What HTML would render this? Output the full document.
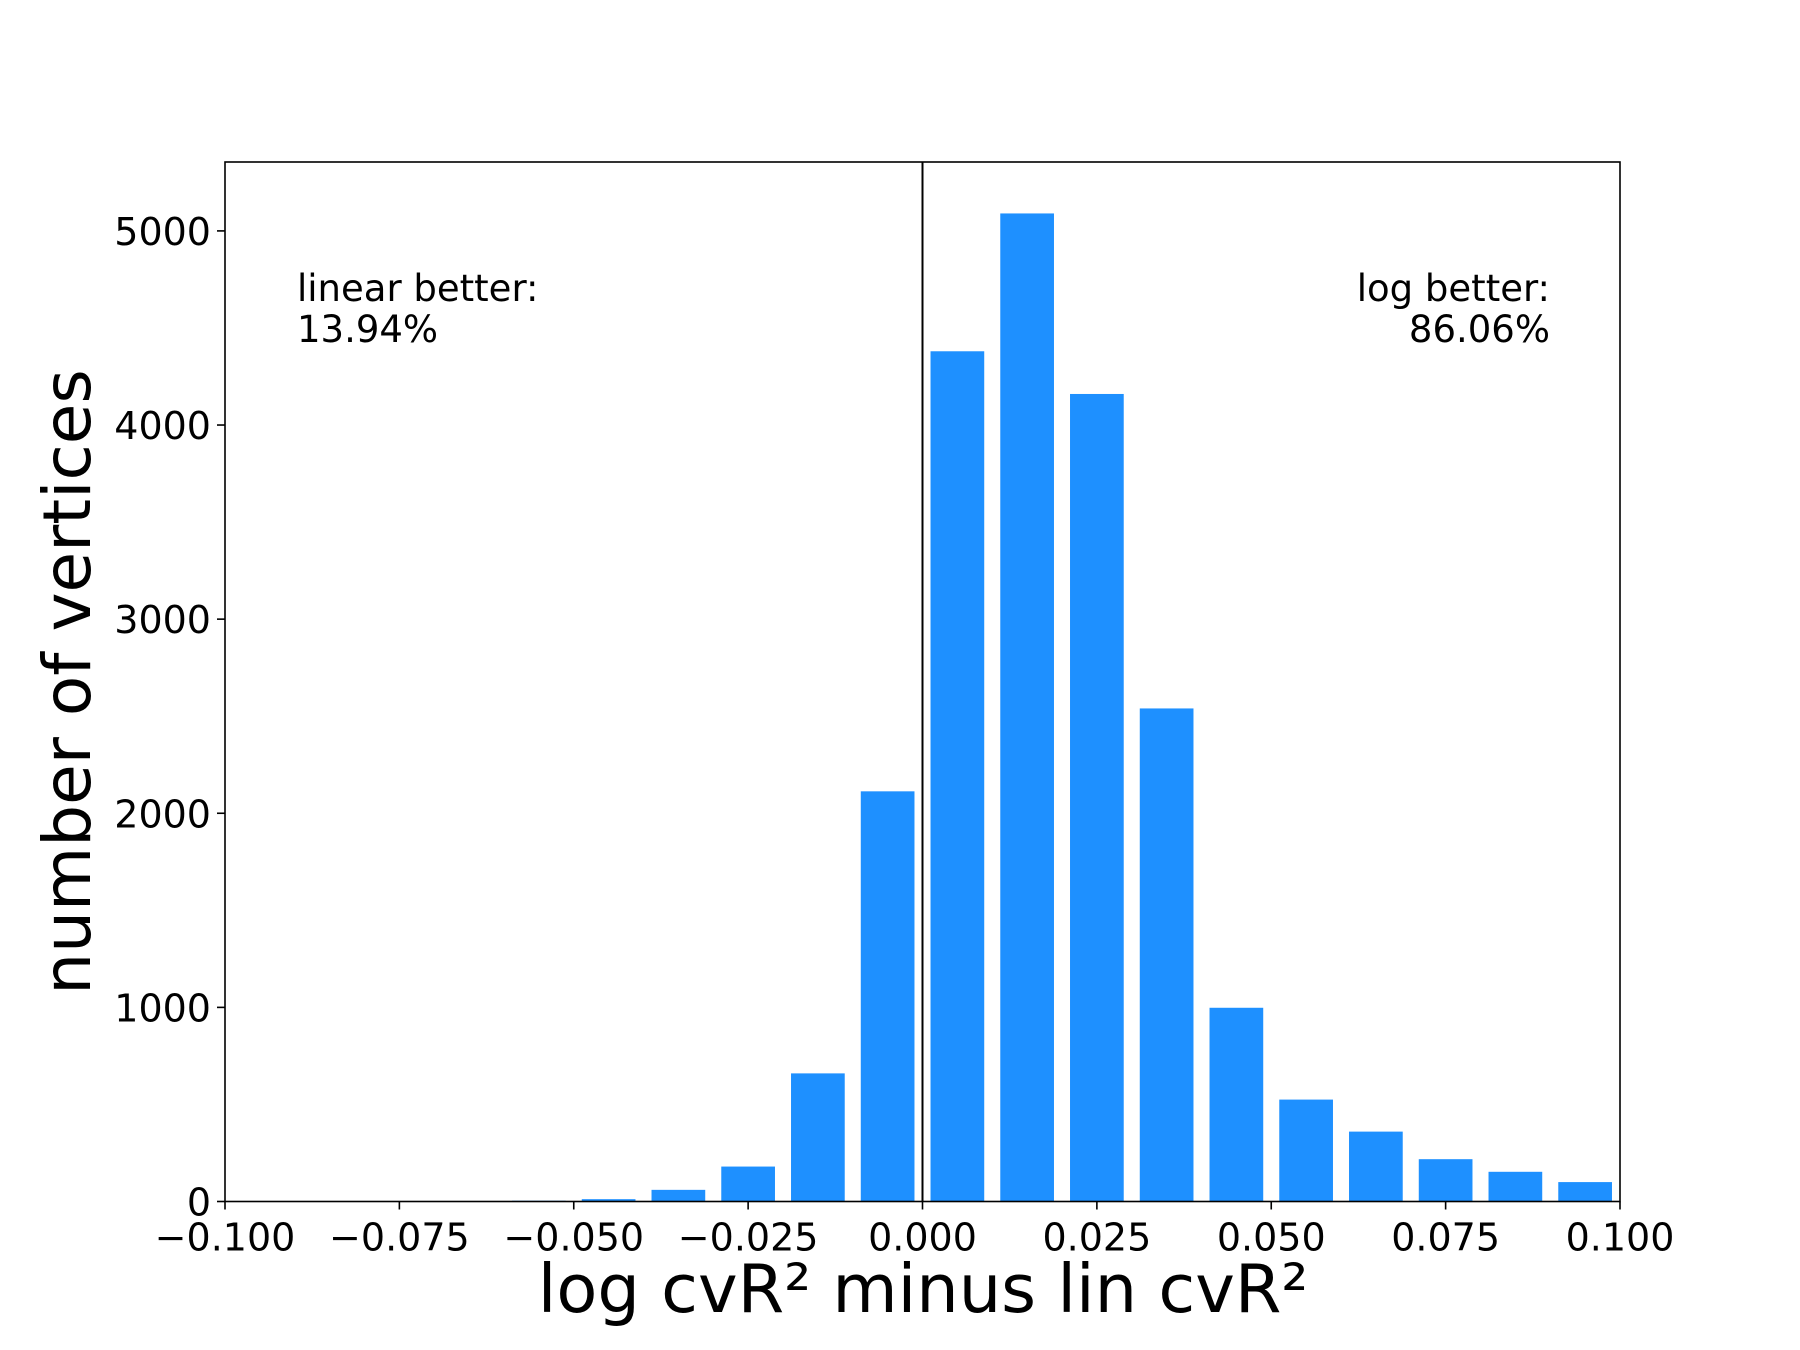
<!DOCTYPE html>
<html><head><meta charset="utf-8"><style>
html,body{margin:0;padding:0;background:#fff;}
svg{display:block;font-family:"DejaVu Sans","Liberation Sans",sans-serif;}
</style></head><body>
<svg id="chart" width="1800" height="1350" viewBox="0 0 1800 1350">
<g id="bars"></g>
<g id="axes"></g>
<text x="923" y="1312" font-size="67" text-anchor="middle">log cvR² minus lin cvR²</text>
<text transform="translate(72,682) rotate(-90)" font-size="66" text-anchor="middle" dominant-baseline="middle">number of vertices</text>
<text x="297" y="301" font-size="37"><tspan x="297">linear better:</tspan><tspan x="297" dy="41">13.94%</tspan></text>
<text x="1550" y="301" font-size="37" text-anchor="end"><tspan x="1550">log better:</tspan><tspan x="1550" dy="41">86.06%</tspan></text>
</svg>
<script>
const binCenters = [-0.095,-0.085,-0.075,-0.065,-0.055,-0.045,-0.035,-0.025,-0.015,-0.005,0.005,0.015,0.025,0.035,0.045,0.055,0.065,0.075,0.085,0.095];
const counts = [0,0,1,2,4,12,60,180,660,2113,4380,5090,4160,2540,998,525,360,218,153,100];
const xTicks = [-0.1,-0.075,-0.05,-0.025,0,0.025,0.05,0.075,0.1];
const xTickLabels = ["\u22120.100","\u22120.075","\u22120.050","\u22120.025","0.000","0.025","0.050","0.075","0.100"];
const yTicks = [0,1000,2000,3000,4000,5000];
const yTickLabels = ["0","1000","2000","3000","4000","5000"];

const L=225,R=1620,T=162,B=1201.5;
const xMin=-0.1,xMax=0.1,yMax=5355,binW=0.01,rw=0.77;
const sx=v=>L+(v-xMin)/(xMax-xMin)*(R-L);
const sy=v=>B-v/yMax*(B-T);
const NS="http://www.w3.org/2000/svg";
function mk(tag,attrs,parent){const e=document.createElementNS(NS,tag);for(const k in attrs)e.setAttribute(k,attrs[k]);parent.appendChild(e);return e;}
const bars=document.getElementById('bars'),axes=document.getElementById('axes');
binCenters.forEach((c,i)=>{
  const x0=sx(c-binW*rw/2),x1=sx(c+binW*rw/2);
  const r=mk('rect',{x:x0,y:sy(counts[i]),width:x1-x0,height:B-sy(counts[i]),fill:'#1e90ff'},bars);
  
  
});
const zl=mk('line',{x1:sx(0),x2:sx(0),y1:T,y2:B,stroke:'#000','stroke-width':2},axes);


const fr=mk('rect',{x:L,y:T,width:R-L,height:B-T,fill:'none',stroke:'#000','stroke-width':1.6},axes);


xTicks.forEach((v,i)=>{
  const x=sx(v);
  mk('line',{x1:x,x2:x,y1:B,y2:B+8,stroke:'#000','stroke-width':1.6},axes);
  const t=mk('text',{x:x,y:B+49,'font-size':38,'text-anchor':'middle'},axes);
  t.textContent=xTickLabels[i];
  
  
});
yTicks.forEach((v,i)=>{
  const y=sy(v);
  mk('line',{x1:L-8,x2:L,y1:y,y2:y,stroke:'#000','stroke-width':1.6},axes);
  const t=mk('text',{x:L-14,y:y+14,'font-size':38,'text-anchor':'end'},axes);
  t.textContent=yTickLabels[i];
  
  
});
</script>
</body></html>
